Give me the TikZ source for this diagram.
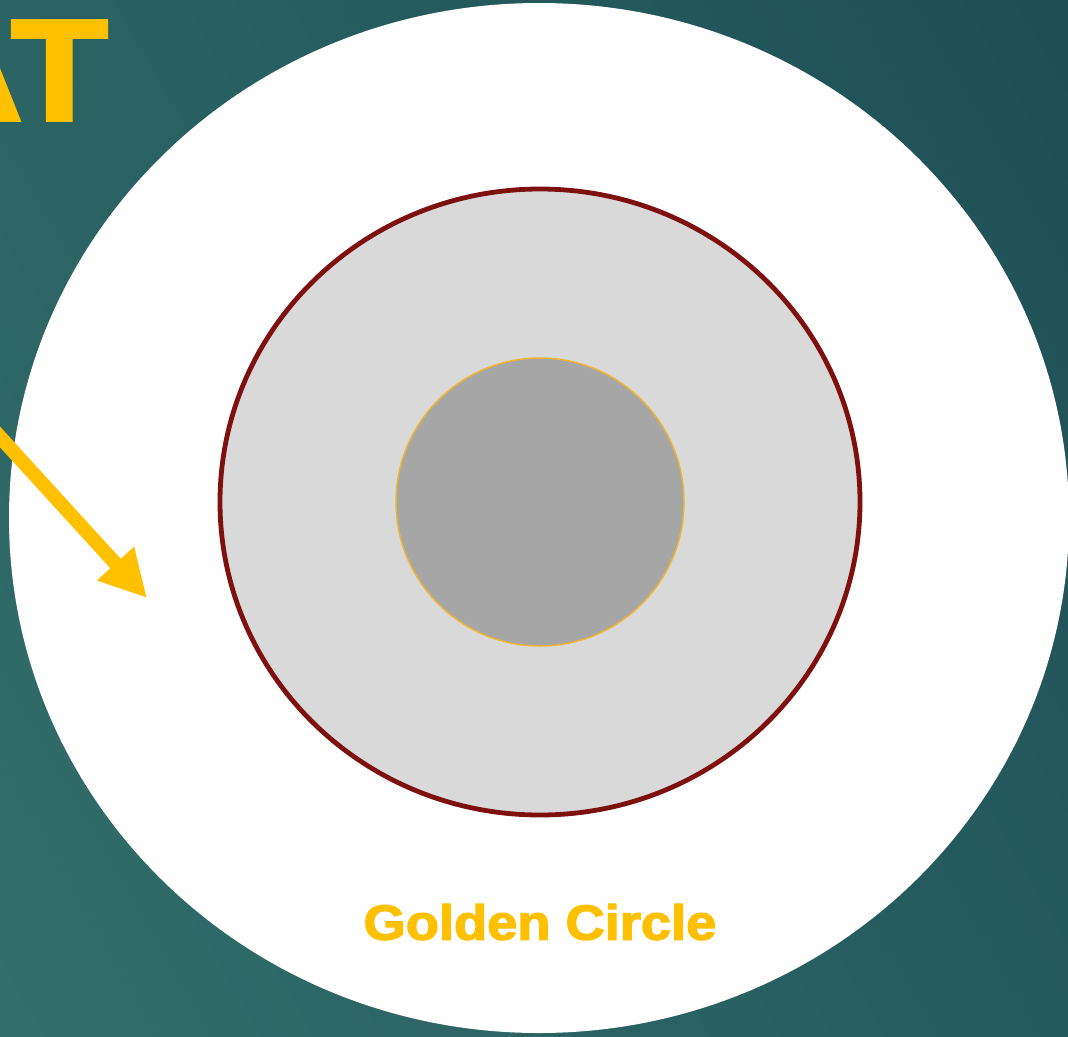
\documentclass[tikz,border=0pt]{standalone}
\usepackage{fontspec}
\setmainfont{Liberation Sans}
\newfontfamily\heavyfont[FakeBold=2.5]{Liberation Sans Bold}
\usetikzlibrary{arrows.meta}
\definecolor{gold}{HTML}{FFC000}
\definecolor{ringred}{HTML}{7F1010}
\definecolor{midgray}{HTML}{D9D9D9}
\definecolor{coregray}{HTML}{A6A6A6}
\definecolor{coreedge}{HTML}{EDB631}
\definecolor{tealA}{HTML}{35736D}
\definecolor{tealB}{HTML}{1B4A52}
\tikzset{
  goldtext/.style={text=gold, inner sep=0pt},
  goldarrow/.style={draw=gold, line width=10.5pt, -{Triangle[length=35pt,width=35pt]}}
}
\begin{document}
\begin{tikzpicture}[x=0.75pt,y=-0.75pt]
\useasboundingbox (0,0) rectangle (1068,1036);
\begin{scope}
\clip (0,0) rectangle (1068,1036);
\shade[left color=tealA, right color=tealB, shading angle=120] (-400,-400) rectangle (1468,1436);
% outer white ellipse
\fill[white] (539,518) ellipse [x radius=530, y radius=515];
% middle ring
\draw[fill=midgray, draw=ringred, line width=3.6pt] (540,502) ellipse [x radius=320, y radius=313];
% core circle
\draw[fill=coregray, draw=coreedge, line width=1.1pt] (540,502) circle (144);
% partial title
\node[goldtext, font=\fontsize{108}{108}\heavyfont, anchor=base east, xscale=1.1] (title) at (108,120) {AT};
% arrow
\coordinate (arrowstart) at (-20,415);
\coordinate (arrowtip) at (147,598);
\draw[goldarrow] (arrowstart) -- (arrowtip);
% label
\node[goldtext, font=\fontsize{37}{37}\heavyfont, xscale=1.1] (label) at (540,922) {Golden Circle};
\end{scope}
\end{tikzpicture}
\end{document}
